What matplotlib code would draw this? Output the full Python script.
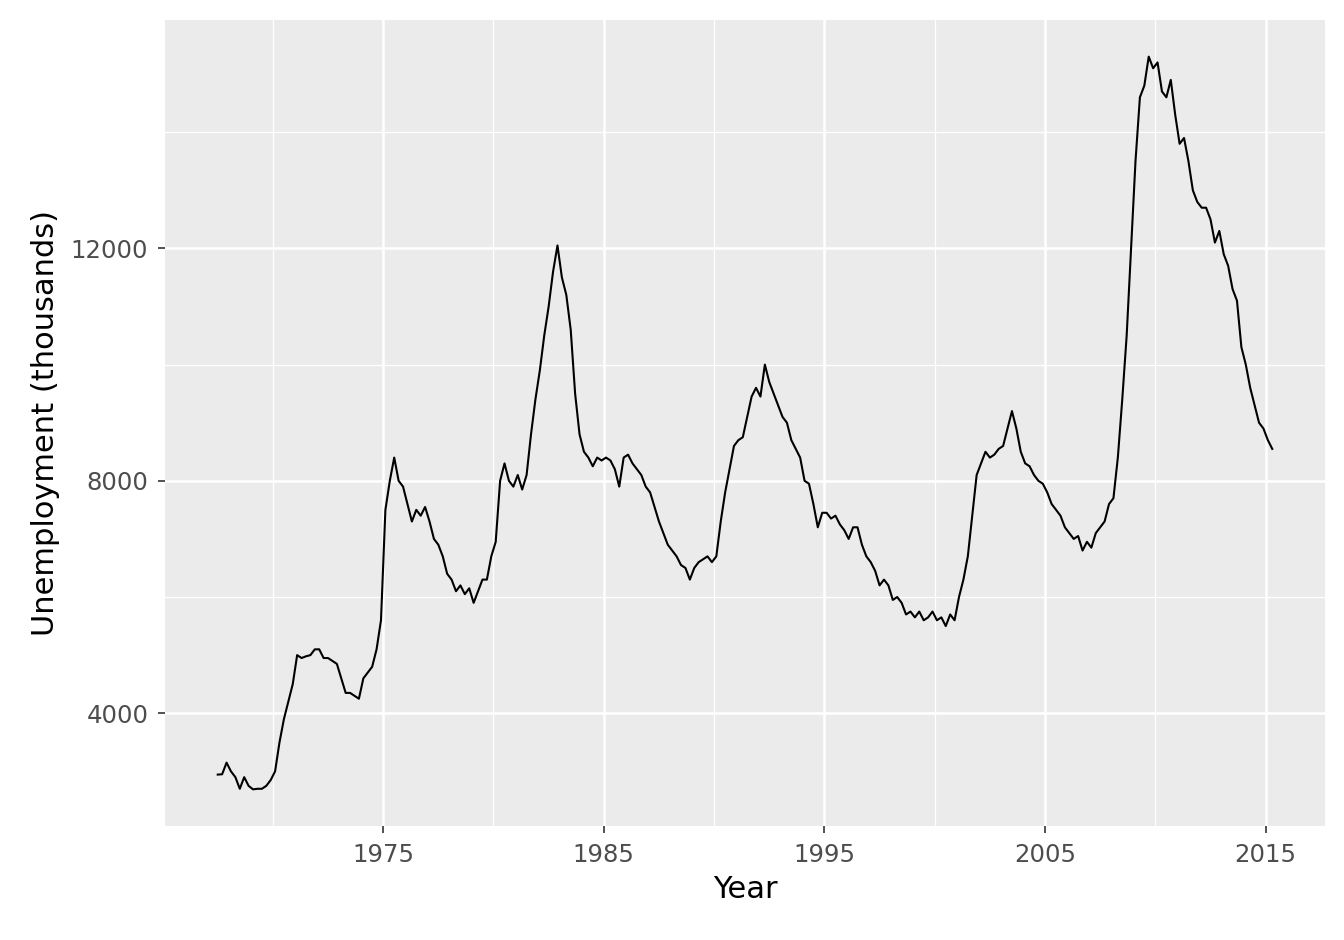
import matplotlib
matplotlib.use("Agg")
import matplotlib.pyplot as plt
import numpy as np

# values sampled at year + 0.1, 0.3, 0.5, 0.7, 0.9
start_years = [1967.5, 1967.7, 1967.9]
start_values = [2944, 2950, 3150]
row_years = list(range(1968, 2015))
row_values = [
    [3000, 2900, 2700, 2900, 2750],   # 1968
    [2690, 2700, 2700, 2750, 2850],   # 1969
    [3000, 3500, 3900, 4200, 4500],   # 1970
    [5000, 4950, 4980, 5000, 5100],   # 1971
    [5100, 4950, 4950, 4900, 4850],   # 1972
    [4600, 4350, 4350, 4300, 4250],   # 1973
    [4600, 4700, 4800, 5100, 5600],   # 1974
    [7500, 8000, 8400, 8000, 7900],   # 1975
    [7600, 7300, 7500, 7400, 7550],   # 1976
    [7300, 7000, 6900, 6700, 6400],   # 1977
    [6300, 6100, 6200, 6050, 6150],   # 1978
    [5900, 6100, 6300, 6300, 6700],   # 1979
    [6950, 8000, 8300, 8000, 7900],   # 1980
    [8100, 7850, 8100, 8800, 9400],   # 1981
    [9900, 10500, 11000, 11600, 12050],  # 1982
    [11500, 11200, 10600, 9500, 8800],   # 1983
    [8500, 8400, 8250, 8400, 8350],   # 1984
    [8400, 8350, 8200, 7900, 8400],   # 1985
    [8450, 8300, 8200, 8100, 7900],   # 1986
    [7800, 7550, 7300, 7100, 6900],   # 1987
    [6800, 6700, 6550, 6500, 6300],   # 1988
    [6500, 6600, 6650, 6700, 6600],   # 1989
    [6700, 7300, 7800, 8200, 8600],   # 1990
    [8700, 8750, 9100, 9450, 9600],   # 1991
    [9450, 10000, 9700, 9500, 9300],  # 1992
    [9100, 9000, 8700, 8550, 8400],   # 1993
    [8000, 7950, 7600, 7200, 7450],   # 1994
    [7450, 7350, 7400, 7250, 7150],   # 1995
    [7000, 7200, 7200, 6900, 6700],   # 1996
    [6600, 6450, 6200, 6300, 6200],   # 1997
    [5950, 6000, 5900, 5700, 5750],   # 1998
    [5650, 5750, 5600, 5650, 5750],   # 1999
    [5600, 5650, 5500, 5700, 5600],   # 2000
    [6000, 6300, 6700, 7400, 8100],   # 2001
    [8300, 8500, 8400, 8450, 8550],   # 2002
    [8600, 8900, 9200, 8900, 8500],   # 2003
    [8300, 8250, 8100, 8000, 7950],   # 2004
    [7800, 7600, 7500, 7400, 7200],   # 2005
    [7100, 7000, 7050, 6800, 6950],   # 2006
    [6850, 7100, 7200, 7300, 7600],   # 2007
    [7700, 8400, 9400, 10500, 12000], # 2008
    [13500, 14600, 14800, 15300, 15100],  # 2009
    [15200, 14700, 14600, 14900, 14300],  # 2010
    [13800, 13900, 13500, 13000, 12800],  # 2011
    [12700, 12700, 12500, 12100, 12300],  # 2012
    [11900, 11700, 11300, 11100, 10300],  # 2013
    [10000, 9600, 9300, 9000, 8900],      # 2014
]
end_years = [2015.1, 2015.3]
end_values = [8700, 8549]

years = list(start_years)
unemploy = list(start_values)
for y, row in zip(row_years, row_values):
    years += [y + f for f in (0.1, 0.3, 0.5, 0.7, 0.9)]
    unemploy += row
years += end_years
unemploy += end_values

fig = plt.figure(figsize=(6.72, 4.7), dpi=200)
ax = fig.add_axes([165/1344, 1-826/940, (1325-165)/1344, (826-20)/940])
ax.set_facecolor('#EBEBEB')
for s in ax.spines.values():
    s.set_visible(False)
ax.plot(years, unemploy, color='black', lw=0.75, zorder=3)
xr = max(years)-min(years); yr = max(unemploy)-min(unemploy)
ax.set_xlim(min(years)-0.05*xr, max(years)+0.05*xr)
ax.set_ylim(min(unemploy)-0.05*yr, max(unemploy)+0.05*yr)
ax.set_xticks([1975,1985,1995,2005,2015])
ax.set_xticks([1970,1980,1990,2000,2010], minor=True)
ax.set_yticks([4000,8000,12000])
ax.set_yticks([6000,10000,14000], minor=True)
ax.grid(which='major', color='white', lw=0.9)
ax.grid(which='minor', color='white', lw=0.45)
ax.set_axisbelow(True)
ax.tick_params(which='major', length=2.5, color='#333333', labelsize=8.8, labelcolor='#4D4D4D', width=0.6)
ax.tick_params(which='minor', length=0)
ax.set_xlabel('Year', fontsize=11, labelpad=3)
ax.set_ylabel('Unemployment (thousands)', fontsize=11, labelpad=4)
fig.savefig('out.png', dpi=200)
